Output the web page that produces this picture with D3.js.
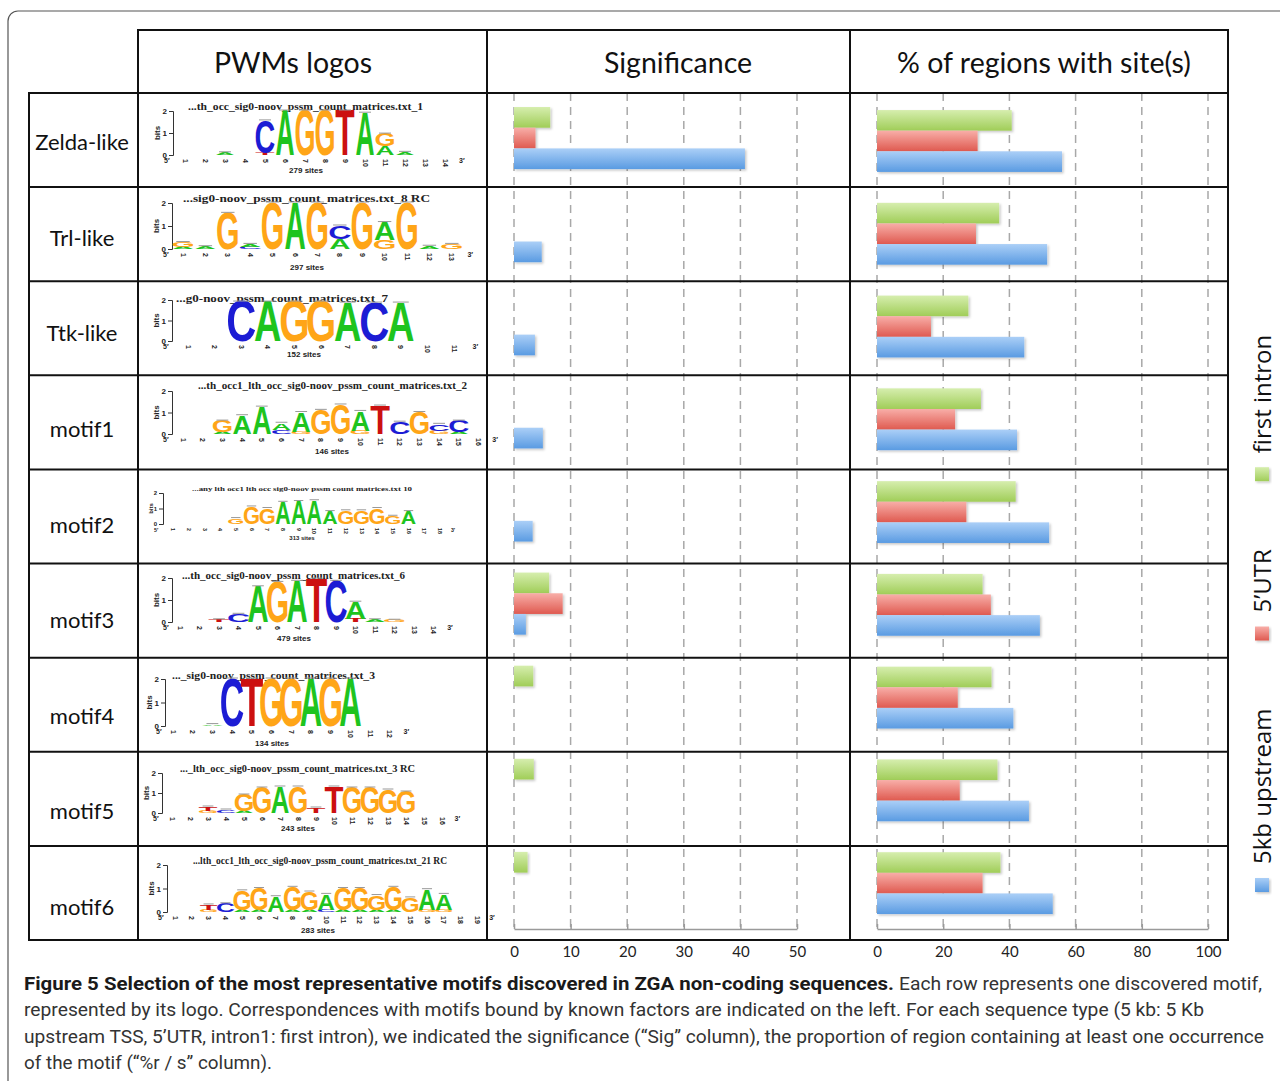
<!DOCTYPE html>
<html>
<head>
<meta charset="utf-8">
<script src="https://cdn.jsdelivr.net/npm/d3@7"></script>
<style>
body { margin: 0; background: #fff; }
svg { display: block; }
</style>
</head>
<body>
<script>

// ---- data ----
var rowLabels = ['Zelda-like', 'Trl-like', 'Ttk-like', 'motif1', 'motif2', 'motif3', 'motif4', 'motif5', 'motif6'];
var seriesNames = ['first intron', '5’UTR', '5kb upstream'];

// significance (order: first intron, 5'UTR, 5kb upstream)
var sigIntron   = [6.4, 0, 0, 0, 0, 6.2, 3.4, 3.5, 2.4];
var sigUTR      = [3.8, 0, 0, 0, 0, 8.6, 0, 0, 0];
var sigUpstream = [40.8, 4.9, 3.7, 5.1, 3.3, 2.1, 0, 0, 0];

// % of regions with site(s)
var pctIntron   = [40.7, 36.9, 27.6, 31.4, 41.9, 31.9, 34.6, 36.4, 37.3];
var pctUTR      = [30.4, 29.9, 16.3, 23.6, 27.0, 34.4, 24.4, 25.0, 31.9];
var pctUpstream = [55.9, 51.4, 44.5, 42.3, 52.0, 49.2, 41.2, 45.9, 53.1];

var sigTicks = [0, 10, 20, 30, 40, 50];
var pctTicks = [0, 20, 40, 60, 80, 100];

// sequence logos: [position, letter, bits, letter, bits ...] stacked from the bottom
var logoTitles = [
    '...th_occ_sig0-noov_pssm_count_matrices.txt_1',
    '...sig0-noov_pssm_count_matrices.txt_8  RC',
    '...g0-noov_pssm_count_matrices.txt_7',
    '...th_occ1_lth_occ_sig0-noov_pssm_count_matrices.txt_2',
    '...any  lth  occ1  lth  occ  sig0-noov  pssm  count  matrices.txt  10',
    '...th_occ_sig0-noov_pssm_count_matrices.txt_6',
    '..._sig0-noov_pssm_count_matrices.txt_3',
    '..._lth_occ_sig0-noov_pssm_count_matrices.txt_3  RC',
    '...lth_occ1_lth_occ_sig0-noov_pssm_count_matrices.txt_21  RC'
];
var logoSites = [279, 297, 152, 146, 313, 479, 134, 243, 283];
var logoLengths = [14, 13, 11, 16, 18, 14, 12, 16, 19];
var logoColumns = [
    [[3,'A',0.1],[5,'T',0.1,'C',1.45],[6,'A',2],[7,'G',2],[8,'G',2],[9,'T',2],[10,'A',1.9],[11,'A',0.4,'G',0.55],[12,'A',0.12]],
    [[1,'A',0.08,'G',0.2],[2,'A',0.1],[3,'G',1.55],[4,'C',0.08,'A',0.12],[5,'G',2],[6,'A',2],[7,'G',2],[8,'A',0.45,'C',0.55],[9,'G',2],[10,'G',0.4,'A',0.75],[11,'G',2],[12,'A',0.12],[13,'G',0.2]],
    [[3,'C',1.9],[4,'A',1.9],[5,'G',1.9],[6,'G',1.9],[7,'A',1.85],[8,'C',1.85],[9,'A',1.85]],
    [[3,'A',0.1,'G',0.5],[4,'A',0.85],[5,'A',1.25],[6,'C',0.2,'A',0.3],[7,'G',0.1,'A',0.9],[8,'G',1.1],[9,'G',1.35],[10,'G',0.15,'A',0.9],[11,'T',1.3],[12,'C',0.55],[13,'G',1.0],[14,'G',0.15,'C',0.3],[15,'A',0.1,'C',0.5]],
    [[5,'G',0.35],[6,'G',1.1],[7,'G',1.0],[8,'A',1.4],[9,'A',1.45],[10,'A',1.5],[11,'A',0.8],[12,'G',0.85],[13,'G',0.85],[14,'G',1.0],[15,'G',0.5],[16,'A',0.8]],
    [[3,'T',0.1],[4,'C',0.35],[5,'A',1.6],[6,'G',1.8],[7,'A',1.85],[8,'T',1.95],[9,'C',1.85],[10,'T',0.15,'A',0.75],[11,'A',0.1],[12,'G',0.08]],
    [[3,'A',0.06],[4,'C',2],[5,'T',2],[6,'G',2],[7,'G',2],[8,'A',2],[9,'G',2],[10,'A',2]],
    [[3,'G',0.1,'T',0.2],[4,'C',0.15],[5,'A',0.1,'G',0.8],[6,'G',1.25],[7,'A',1.3],[8,'G',1.3],[9,'T',0.25],[10,'T',1.3],[11,'G',1.25],[12,'G',1.25],[13,'G',1.15],[14,'G',1.05]],
    [[3,'G',0.1,'T',0.2],[4,'C',0.35],[5,'A',0.1,'G',0.8],[6,'A',0.1,'G',0.9],[7,'A',0.65],[8,'A',0.1,'G',0.95],[9,'A',0.1,'G',0.75],[10,'C',0.1,'A',0.65],[11,'A',0.1,'G',0.9],[12,'A',0.1,'G',0.9],[13,'A',0.1,'G',0.6],[14,'A',0.1,'G',0.95],[15,'G',0.6],[16,'G',0.1,'A',0.85],[17,'G',0.1,'A',0.65]]
];

var captionBold = 'Figure 5 Selection of the most representative motifs discovered in ZGA non-coding sequences.';
var captionLines = [
    'Each row represents one discovered motif,',
    'represented by its logo. Correspondences with motifs bound by known factors are indicated on the left. For each sequence type (5 kb: 5 Kb',
    'upstream TSS, 5’UTR, intron1: first intron), we indicated the significance (“Sig” column), the proportion of region containing at least one occurrence',
    'of the motif (“%r / s” column).'
];

// ---- layout / style ----
var seriesColors = [['#d6eeae', '#a0cd58'], ['#f8aea8', '#df5a50'], ['#abcff7', '#5a9be2']];
var letterColor = { A: '#1ec41e', C: '#1c1cd4', G: '#ffa517', T: '#cc1010' };
var letterInk = { A: 0.70, C: 0.64, G: 0.68, T: 0.58 };

// where each logo picture sits inside its cell
var logoFrames = [
    {ax:173, y2:111, y0:155, c1:185, dx:20,   lw:0.92, tx0:188, tx1:423, ty:106, sx:306, sy:170, tf:10.5},
    {ax:172, y2:203, y0:249, c1:183, dx:22.4, lw:0.92, tx0:183, tx1:430, ty:198, sx:307, sy:267, tf:10.5},
    {ax:172, y2:300, y0:341, c1:188, dx:26.6, lw:1.0,  tx0:176, tx1:388, ty:298, sx:304, sy:354, tf:10.5},
    {ax:172, y2:391, y0:434, c1:183, dx:19.7, lw:0.95, tx0:198, tx1:467, ty:385, sx:332, sy:451, tf:10.5},
    {ax:163, y2:493, y0:524, c1:173, dx:15.7, lw:0.95, tx0:192, tx1:412, ty:489, sx:302, sy:537, tf:7},
    {ax:172, y2:578, y0:622, c1:180, dx:19.5, lw:1.05, tx0:182, tx1:405, ty:575, sx:294, sy:638, tf:10.5},
    {ax:165, y2:679, y0:726, c1:173, dx:19.7, lw:1.1,  tx0:172, tx1:375, ty:675, sx:272, sy:743, tf:10.5},
    {ax:162, y2:773, y0:813, c1:172, dx:18,   lw:1.0,  tx0:180, tx1:415, ty:768, sx:298, sy:828, tf:10.5},
    {ax:167, y2:865, y0:912, c1:175, dx:16.8, lw:1.0,  tx0:193, tx1:447, ty:860, sx:318, sy:930, tf:10.5}
];

var width = 1280, height = 1081;
var svg = d3.select('body').append('svg')
    .attr('width', width)
    .attr('height', height)
    .style('font-family', 'Lato, "Open Sans", sans-serif');

var defs = svg.append('defs');
seriesColors.forEach(function(c, i) {
    var gr = defs.append('linearGradient').attr('id', 'grad' + i)
        .attr('x1', 0).attr('y1', 0).attr('x2', 0).attr('y2', 1);
    gr.append('stop').attr('offset', '0%').attr('stop-color', c[0]);
    gr.append('stop').attr('offset', '100%').attr('stop-color', c[1]);
});
var shadow = defs.append('filter').attr('id', 'shadow')
    .attr('x', '-10%').attr('y', '-20%').attr('width', '130%').attr('height', '160%');
shadow.append('feDropShadow').attr('dx', 1.5).attr('dy', 1.5).attr('stdDeviation', 1)
    .attr('flood-color', '#000').attr('flood-opacity', 0.22);

// outer rounded frame
svg.append('rect')
    .attr('x', 8).attr('y', 11).attr('width', 1300).attr('height', 1100).attr('rx', 10)
    .attr('fill', 'none').attr('stroke', '#555').attr('stroke-width', 1.2);

var rowY = d3.scaleBand().domain(d3.range(rowLabels.length)).range([93, 940]);

// ---- bar charts ----
function drawChart(vals, x, top, ticks) {
    var y = d3.scaleBand().domain(d3.range(rowLabels.length)).range([top, 929.5])
        .paddingInner(1 / 3).paddingOuter(1 / 6);
    var ys = d3.scaleBand().domain([0, 1, 2]).range([0, y.bandwidth()]);
    var g = svg.append('g');

    g.selectAll('.grid').data(ticks).enter().append('line')
        .attr('class', 'grid')
        .attr('x1', function(d) { return x(d) }).attr('x2', function(d) { return x(d) })
        .attr('y1', 93).attr('y2', 929)
        .attr('stroke', '#a8a8a8').attr('stroke-width', 1.5).attr('stroke-dasharray', '8,6');

    var ax = g.append('g').attr('transform', 'translate(0,929)')
        .call(d3.axisBottom(x).tickValues(ticks).tickSizeInner(-5).tickSizeOuter(0).tickPadding(17));
    ax.select('.domain').attr('stroke', '#9a9a9a').attr('stroke-width', 1.5);
    ax.selectAll('.tick line').attr('stroke', '#9a9a9a').attr('stroke-width', 1.5);
    ax.selectAll('text').attr('font-size', 15).attr('font-family', 'Lato, sans-serif').attr('fill', '#222');

    vals.forEach(function(arr, s) {
        var data = arr.map(function(v, i) { return { v: v, i: i } }).filter(function(d) { return d.v > 0 });
        g.selectAll(null).data(data).enter().append('rect')
            .attr('x', x(0))
            .attr('y', function(d) { return y(d.i) + ys(s) })
            .attr('width', function(d) { return x(d.v) - x(0) })
            .attr('height', ys.bandwidth())
            .attr('fill', 'url(#grad' + s + ')')
            .attr('filter', 'url(#shadow)');
    });
}

var xSig = d3.scaleLinear().domain([0, 50]).range([514, 797]);
var xPct = d3.scaleLinear().domain([0, 100]).range([877, 1208]);
drawChart([sigIntron, sigUTR, sigUpstream], xSig, 91.5, sigTicks);
drawChart([pctIntron, pctUTR, pctUpstream], xPct, 94.6, pctTicks);

// ---- table grid ----
var tbl = svg.append('g').attr('stroke', '#111').attr('stroke-width', 2).attr('stroke-linecap', 'square');
function hline(x1, x2, y) { tbl.append('line').attr('x1', x1).attr('x2', x2).attr('y1', y).attr('y2', y) }
function vline(x, y1, y2) { tbl.append('line').attr('x1', x).attr('x2', x).attr('y1', y1).attr('y2', y2) }
hline(138, 1228, 30);
rowLabels.forEach(function(d, i) { hline(29, 1228, rowY(i)) });
hline(29, 1228, 940);
vline(29, 93, 940);
vline(138, 30, 940);
vline(487, 30, 940);
vline(850, 30, 940);
vline(1228, 30, 940);

// headers
var headers = [['PWMs logos', 293], ['Significance', 678], ['% of regions with site(s)', 1044]];
svg.selectAll('.hdr').data(headers).enter().append('text')
    .attr('class', 'hdr')
    .attr('x', function(d) { return d[1] }).attr('y', 73)
    .attr('text-anchor', 'middle').attr('font-size', 28.5).attr('fill', '#111')
    .text(function(d) { return d[0] });

// row labels
var labelY = d3.scaleLinear().domain([0, rowLabels.length - 1]).range([142, 907]);
svg.selectAll('.rl').data(rowLabels).enter().append('text')
    .attr('class', 'rl')
    .attr('x', 82).attr('y', function(d, i) { return labelY(i) + 8 })
    .attr('text-anchor', 'middle').attr('font-size', 22).attr('fill', '#111')
    .text(function(d) { return d });

// ---- logos ----
logoColumns.forEach(function(cols, k) {
    var fr = logoFrames[k];
    var n = logoLengths[k];
    var g = svg.append('g').attr('fill', '#222');
    var bx = d3.scaleLinear().domain([1, n]).range([fr.c1, fr.c1 + (n - 1) * fr.dx]);
    var by = d3.scaleLinear().domain([0, 2]).range([fr.y0, fr.y2]);
    var small = fr.tf < 9 ? 0.75 : 1;

    var ax = g.append('g').attr('transform', 'translate(' + fr.ax + ',0)')
        .call(d3.axisLeft(by).tickValues([0, 1, 2]).tickSize(4).tickPadding(2).tickFormat(d3.format('d')));
    ax.select('.domain').attr('stroke', '#333');
    ax.selectAll('.tick line').attr('stroke', '#333');
    ax.selectAll('text').attr('font-size', 8 * small).attr('font-weight', 'bold')
        .attr('font-family', '"Liberation Sans", Arial, sans-serif').attr('fill', '#222');

    g.append('text')
        .attr('transform', 'translate(' + (fr.ax - 13 * small) + ',' + by(1) + ') rotate(-90)')
        .attr('text-anchor', 'middle').attr('font-size', 8 * small).attr('font-weight', 'bold')
        .attr('font-family', '"Liberation Sans", Arial, sans-serif')
        .text('bits');

    g.append('text')
        .attr('x', fr.tx0).attr('y', fr.ty + fr.tf * 0.35)
        .attr('textLength', fr.tx1 - fr.tx0).attr('lengthAdjust', 'spacingAndGlyphs')
        .attr('font-size', fr.tf).attr('font-weight', 'bold')
        .attr('font-family', '"Liberation Serif", "Times New Roman", serif')
        .text(logoTitles[k]);

    cols.forEach(function(c) {
        var pos = c[0], base = 0;
        for (var j = 1; j < c.length; j += 2) {
            var L = c[j], h = c[j + 1];
            var px = by(base) - by(base + h);
            var w = fr.dx * fr.lw;
            g.append('text')
                .attr('transform', 'translate(' + bx(pos) + ',' + by(base) + ') scale(' + (w / (letterInk[L] * 100)) + ',' + (px / 68.8) + ')')
                .attr('text-anchor', 'middle')
                .attr('font-family', '"Liberation Sans", Arial, sans-serif')
                .attr('font-weight', 'bold').attr('font-size', 100)
                .attr('fill', letterColor[L])
                .text(L);
            base += h;
        }
        g.append('line')
            .attr('x1', bx(pos) - fr.dx * 0.3).attr('x2', bx(pos) + fr.dx * 0.3)
            .attr('y1', by(base) - 1).attr('y2', by(base) - 1)
            .attr('stroke', '#999').attr('stroke-width', 1);
    });

    g.selectAll(null).data(d3.range(1, n + 1)).enter().append('text')
        .attr('transform', function(d) { return 'translate(' + (bx(d) - 2.5 * small) + ',' + (fr.y0 + 4) + ') rotate(90)' })
        .attr('font-size', 7 * small).attr('font-weight', 'bold')
        .attr('font-family', '"Liberation Sans", Arial, sans-serif')
        .text(function(d) { return d });

    g.append('text').attr('x', fr.ax - 9).attr('y', fr.y0 + 8)
        .attr('font-size', 7 * small).attr('font-weight', 'bold')
        .attr('font-family', '"Liberation Sans", Arial, sans-serif').text('5′');
    g.append('text').attr('x', bx(n) + fr.dx * 0.7).attr('y', fr.y0 + 8)
        .attr('font-size', 7 * small).attr('font-weight', 'bold')
        .attr('font-family', '"Liberation Sans", Arial, sans-serif').text('3′');

    g.append('text').attr('x', fr.sx).attr('y', fr.sy + 3)
        .attr('text-anchor', 'middle')
        .attr('font-size', 8 * small).attr('font-weight', 'bold')
        .attr('font-family', '"Liberation Sans", Arial, sans-serif')
        .text(logoSites[k] + ' sites');
});

// ---- legend (rotated, read bottom to top) ----
var legendG = svg.append('g');
var cursor = 892;
[2, 1, 0].forEach(function(s) {
    legendG.append('rect')
        .attr('x', 1255).attr('y', cursor - 14).attr('width', 14).attr('height', 14)
        .attr('fill', 'url(#grad' + s + ')').attr('filter', 'url(#shadow)');
    var t = legendG.append('text')
        .attr('transform', 'translate(1271,' + (cursor - 28) + ') rotate(-90)')
        .attr('font-size', 24).attr('font-family', '"Open Sans", sans-serif').attr('fill', '#111')
        .text(seriesNames[s]);
    var len = t.node().getComputedTextLength();
    cursor = cursor - 28 - len - 68;
});

// ---- caption ----
var capFont = 'Roboto, "Open Sans", sans-serif';
svg.append('text')
    .attr('x', 24).attr('y', 990)
    .attr('textLength', 870).attr('lengthAdjust', 'spacingAndGlyphs')
    .attr('font-family', capFont).attr('font-weight', 'bold').attr('font-size', 19).attr('fill', '#1a1a1a')
    .text(captionBold);
var capEnds = [1262, 1204, 1264, 272];
captionLines.forEach(function(line, i) {
    var x0 = i == 0 ? 899 : 24;
    svg.append('text')
        .attr('x', x0).attr('y', 990 + i * 26.4)
        .attr('textLength', capEnds[i] - x0).attr('lengthAdjust', 'spacingAndGlyphs')
        .attr('font-family', capFont).attr('font-size', 19).attr('fill', '#333')
        .text(line);
});

</script>
</body>
</html>
